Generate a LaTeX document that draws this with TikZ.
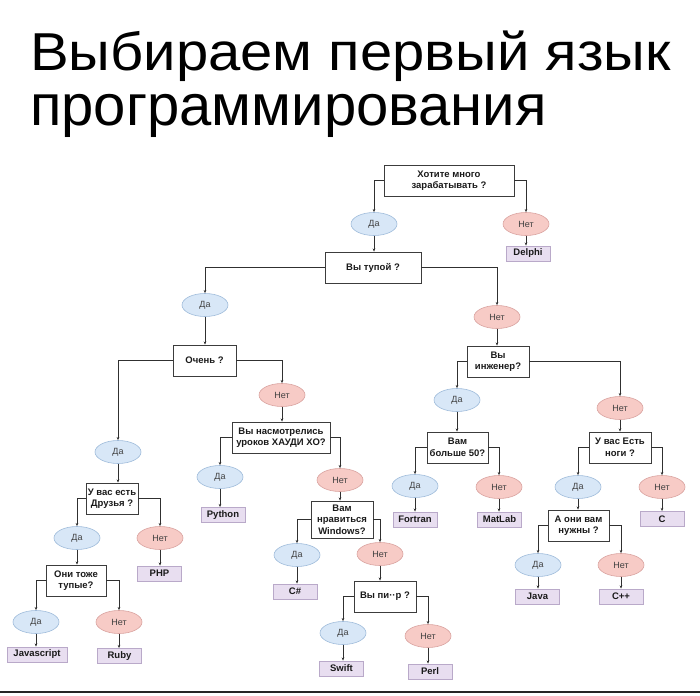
\documentclass[tikz,border=0pt]{standalone}
\usepackage{fontspec}
\setmainfont{Liberation Sans}
\usetikzlibrary{shapes.geometric,arrows.meta}
\definecolor{qborder}{HTML}{3C3C3C}
\definecolor{dafill}{HTML}{D8E7F7}
\definecolor{daline}{HTML}{9FBBDA}
\definecolor{netfill}{HTML}{F7CBC6}
\definecolor{netline}{HTML}{D9A3A0}
\definecolor{resfill}{HTML}{E8DEF0}
\definecolor{resline}{HTML}{B9A9C9}
\definecolor{conncol}{HTML}{303030}
\definecolor{txtcol}{HTML}{1A1A1A}
\tikzset{
  qbox/.style={draw=qborder, fill=white, line width=0.8pt, rectangle, inner sep=0pt,
    align=center, text=txtcol, font=\bfseries\fontsize{9.5}{11.5}\selectfont},
  yesnode/.style={ellipse, draw=daline, fill=dafill, line width=0.6pt, inner sep=0pt,
    minimum width=46pt, minimum height=23pt, text=black!75, font=\fontsize{9}{10}\selectfont},
  nonode/.style={ellipse, draw=netline, fill=netfill, line width=0.6pt, inner sep=0pt,
    minimum width=46pt, minimum height=23pt, text=black!75, font=\fontsize{9}{10}\selectfont},
  resbox/.style={rectangle, draw=resline, fill=resfill, line width=0.8pt, inner sep=0pt,
    minimum width=44pt, minimum height=15pt, text=txtcol, font=\bfseries\fontsize{9.5}{11}\selectfont},
  conn/.style={draw=conncol, line width=0.7pt, -{Stealth[length=3.2pt,width=2.6pt]}},
  titletext/.style={anchor=base west, inner sep=0pt, font=\fontsize{58}{60}\selectfont}
}
\begin{document}
\begin{tikzpicture}[x=1pt,y=-1pt]
\useasboundingbox (0,0) rectangle (700,695);
% title
\node[titletext] (t1) at (30,71) {\scalebox{1}[0.92]{Выбираем первый язык}};
\node[titletext] (t2) at (30,126) {программирования};
% nodes
\node[qbox, minimum width=130pt, minimum height=31pt] (q1) at (449,180.5) {Хотите много\\зарабатывать ?};
\node[yesnode] (y1) at (374,224) {Да};
\node[nonode] (n1) at (526,224) {Нет};
\node[resbox] (rdelphi) at (528,253.5) {Delphi};
\node[qbox, minimum width=96pt, minimum height=31pt] (q2) at (373,267.5) {Вы тупой ?};
\node[yesnode] (y2) at (205,305) {Да};
\node[nonode] (n2) at (497,317) {Нет};
\node[qbox, minimum width=63pt, minimum height=31pt] (q3) at (204.5,360.5) {Очень ?};
\node[nonode] (n3) at (282,395) {Нет};
\node[yesnode] (y3) at (118,452) {Да};
\node[qbox, minimum width=62pt, minimum height=31pt] (q4) at (498,361.5) {Вы\\инженер?};
\node[yesnode] (y4) at (457,400) {Да};
\node[nonode] (n4) at (620,408) {Нет};
\node[qbox, minimum width=61pt, minimum height=31pt] (q5) at (457.5,447.5) {Вам\\больше 50?};
\node[yesnode] (y5) at (415,486) {Да};
\node[nonode] (n5) at (499,487) {Нет};
\node[resbox] (rfortran) at (415,519.5) {Fortran};
\node[resbox] (rmatlab) at (499.5,519.5) {MatLab};
\node[qbox, minimum width=62pt, minimum height=31pt] (q6) at (620,447.5) {У вас Есть\\ноги ?};
\node[yesnode] (y6) at (578,487) {Да};
\node[nonode] (n6) at (662,487) {Нет};
\node[resbox] (rc) at (662,519) {C};
\node[qbox, minimum width=61pt, minimum height=31pt] (q7) at (578.5,525.5) {А они вам\\нужны ?};
\node[yesnode] (y7) at (538,565) {Да};
\node[nonode] (n7) at (621,565) {Нет};
\node[resbox] (rjava) at (537.5,596.5) {Java};
\node[resbox] (rcpp) at (621,596.5) {C++};
\node[qbox, minimum width=52pt, minimum height=31pt] (q8) at (112,498.5) {У вас есть\\Друзья ?};
\node[yesnode] (y8) at (77,538) {Да};
\node[nonode] (n8) at (160,538) {Нет};
\node[resbox] (rphp) at (159.5,573.5) {PHP};
\node[qbox, minimum width=60pt, minimum height=31pt] (q9) at (76,580.5) {Они тоже\\тупые?};
\node[yesnode] (y9) at (36,622) {Да};
\node[nonode] (n9) at (119,622) {Нет};
\node[resbox, minimum width=60pt] (rjs) at (37,654.5) {Javascript};
\node[resbox] (rruby) at (119.5,656) {Ruby};
\node[qbox, minimum width=98pt, minimum height=31pt] (q10) at (281,437.5) {Вы насмотрелись\\уроков ХАУДИ ХО?};
\node[yesnode] (y10) at (220,477) {Да};
\node[nonode] (n10) at (340,480) {Нет};
\node[resbox] (rpython) at (223,515) {Python};
\node[qbox, minimum width=62pt, minimum height=37pt] (q11) at (342,519.5) {Вам\\нравиться\\Windows?};
\node[yesnode] (y11) at (297,555) {Да};
\node[nonode] (n11) at (380,554) {Нет};
\node[resbox] (rcs) at (295,591.5) {C\#};
\node[qbox, minimum width=62pt, minimum height=31pt] (q12) at (385,596.5) {Вы пи··р ?};
\node[yesnode] (y12) at (343,633) {Да};
\node[nonode] (n12) at (428,636) {Нет};
\node[resbox] (rswift) at (341.5,668.5) {Swift};
\node[resbox] (rperl) at (430,671.5) {Perl};
% connectors
\draw[conn] (q1.west) -| (y1.north);
\draw[conn] (q1.east) -| (n1.north);
\draw[conn] (n1.south) -- (n1.south |- rdelphi.north);
\draw[conn] (y1.south) -- (y1.south |- q2.north);
\draw[conn] (q2.west) -| (y2.north);
\draw[conn] (q2.east) -| (n2.north);
\draw[conn] (y2.south) -- (y2.south |- q3.north);
\draw[conn] (q3.east) -| (n3.north);
\draw[conn] (q3.west) -| (y3.north);
\draw[conn] (n2.south) -- (n2.south |- q4.north);
\draw[conn] (q4.west) -| (y4.north);
\draw[conn] (q4.east) -| (n4.north);
\draw[conn] (y4.south) -- (y4.south |- q5.north);
\draw[conn] (q5.west) -| (y5.north);
\draw[conn] (q5.east) -| (n5.north);
\draw[conn] (y5.south) -- (y5.south |- rfortran.north);
\draw[conn] (n5.south) -- (n5.south |- rmatlab.north);
\draw[conn] (n4.south) -- (n4.south |- q6.north);
\draw[conn] (q6.west) -| (y6.north);
\draw[conn] (q6.east) -| (n6.north);
\draw[conn] (n6.south) -- (n6.south |- rc.north);
\draw[conn] (y6.south) -- (y6.south |- q7.north);
\draw[conn] (q7.west) -| (y7.north);
\draw[conn] (q7.east) -| (n7.north);
\draw[conn] (y7.south) -- (y7.south |- rjava.north);
\draw[conn] (n7.south) -- (n7.south |- rcpp.north);
\draw[conn] (y3.south) -- (y3.south |- q8.north);
\draw[conn] (q8.west) -| (y8.north);
\draw[conn] (q8.east) -| (n8.north);
\draw[conn] (n8.south) -- (n8.south |- rphp.north);
\draw[conn] (y8.south) -- (y8.south |- q9.north);
\draw[conn] (q9.west) -| (y9.north);
\draw[conn] (q9.east) -| (n9.north);
\draw[conn] (y9.south) -- (y9.south |- rjs.north);
\draw[conn] (n9.south) -- (n9.south |- rruby.north);
\draw[conn] (n3.south) -- (n3.south |- q10.north);
\draw[conn] (q10.west) -| (y10.north);
\draw[conn] (q10.east) -| (n10.north);
\draw[conn] (y10.south) -- (y10.south |- rpython.north);
\draw[conn] (n10.south) -- (n10.south |- q11.north);
\draw[conn] (q11.west) -| (y11.north);
\draw[conn] (q11.east) -| (n11.north);
\draw[conn] (y11.south) -- (y11.south |- rcs.north);
\draw[conn] (n11.south) -- (n11.south |- q12.north);
\draw[conn] (q12.west) -| (y12.north);
\draw[conn] (q12.east) -| (n12.north);
\draw[conn] (y12.south) -- (y12.south |- rswift.north);
\draw[conn] (n12.south) -- (n12.south |- rperl.north);
% bottom rule
\draw[line width=2.5pt, black!85] (0,692) -- (700,692);
\end{tikzpicture}
\end{document}
